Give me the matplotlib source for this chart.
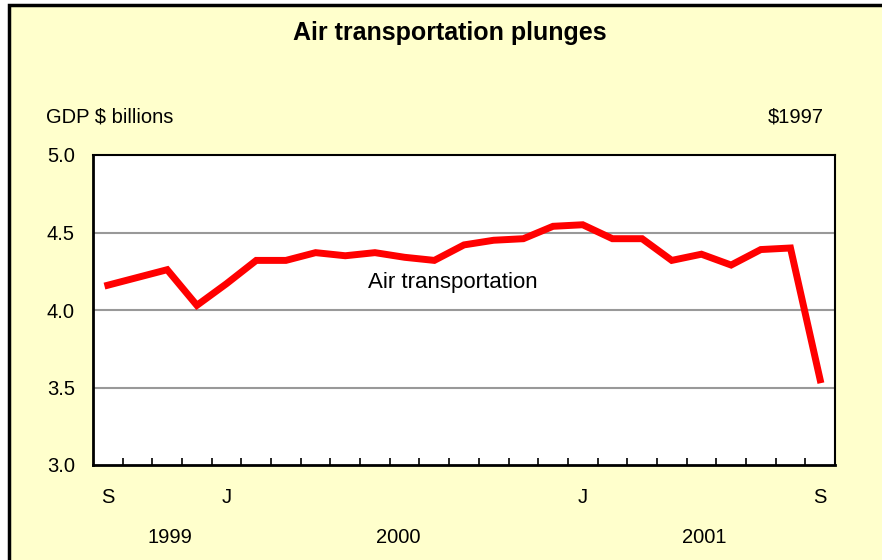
import numpy as np
import matplotlib.pyplot as plt
from matplotlib.patches import Rectangle

plt.rcParams['font.family'] = ['Liberation Sans', 'DejaVu Sans']

# monthly GDP, air transportation, Sep 1999 .. Sep 2001
gdp = [4.16, 4.21, 4.26, 4.03, 4.17, 4.32, 4.32, 4.37, 4.35, 4.37,
       4.34, 4.32, 4.42, 4.45, 4.46, 4.54, 4.55, 4.46, 4.46, 4.32,
       4.36, 4.29, 4.39, 4.40, 3.55]
month_labels = {0: 'S', 4: 'J', 16: 'J', 24: 'S'}
years = ['1999', '2000', '2001']
year_pos = [2.6, 10.3, 20.6]
yticks = [3.0, 3.5, 4.0, 4.5, 5.0]

W, H = 882, 560
fig = plt.figure(figsize=(W / 100, H / 100), dpi=100)
fig.patch.set_facecolor('white')
# yellow panel with black frame (right and bottom edges run off the image)
fig.patches.append(Rectangle((9 / W, -0.05), 1.1, 1.05 - 5 / H,
                             transform=fig.transFigure, facecolor='#FFFFCC',
                             edgecolor='black', linewidth=2.5, zorder=-10))

ax = fig.add_axes([93 / W, 1 - 465 / H, (835 - 93) / W, (465 - 155) / H])
ax.set_facecolor('white')

x = np.arange(len(gdp)) + 0.5
ax.plot(x, gdp, color='#FF0000', linewidth=5, solid_joinstyle='miter', zorder=3)

ax.set_xlim(0, len(gdp))
ax.set_ylim(3.0, 5.0)
ax.set_yticks(yticks)
ax.set_yticklabels([f'{v:.1f}' for v in yticks], fontsize=14.5)
ax.tick_params(axis='y', length=0, pad=13)
for v in [3.5, 4.0, 4.5]:
    ax.axhline(v, color='#999999', linewidth=1.5, zorder=1)

ax.set_xticks(np.arange(1, len(gdp)))
ax.set_xticklabels([])
ax.tick_params(axis='x', direction='in', length=5, width=1.2)

for s in ax.spines.values():
    s.set_linewidth(2)
ax.spines['right'].set_linewidth(1.5)
ax.spines['top'].set_linewidth(1.5)

for i, lab in month_labels.items():
    ax.text(i + 0.5, -0.105, lab, transform=ax.get_xaxis_transform(),
            ha='center', va='center', fontsize=14.5)
for yr, p in zip(years, year_pos):
    ax.text(p, -0.235, yr, transform=ax.get_xaxis_transform(),
            ha='center', va='center', fontsize=14.5)

ax.text(9.25, 4.18, 'Air transportation', ha='left', va='center', fontsize=16)

fig.text(450 / W, 1 - 33 / H, 'Air transportation plunges', ha='center',
         va='center', fontsize=18, fontweight='bold')
fig.text(46 / W, 1 - 117 / H, 'GDP $ billions', ha='left', va='center', fontsize=14.5)
fig.text(824 / W, 1 - 117 / H, '$1997', ha='right', va='center', fontsize=14.5)

fig.savefig('out.png', dpi=100)
